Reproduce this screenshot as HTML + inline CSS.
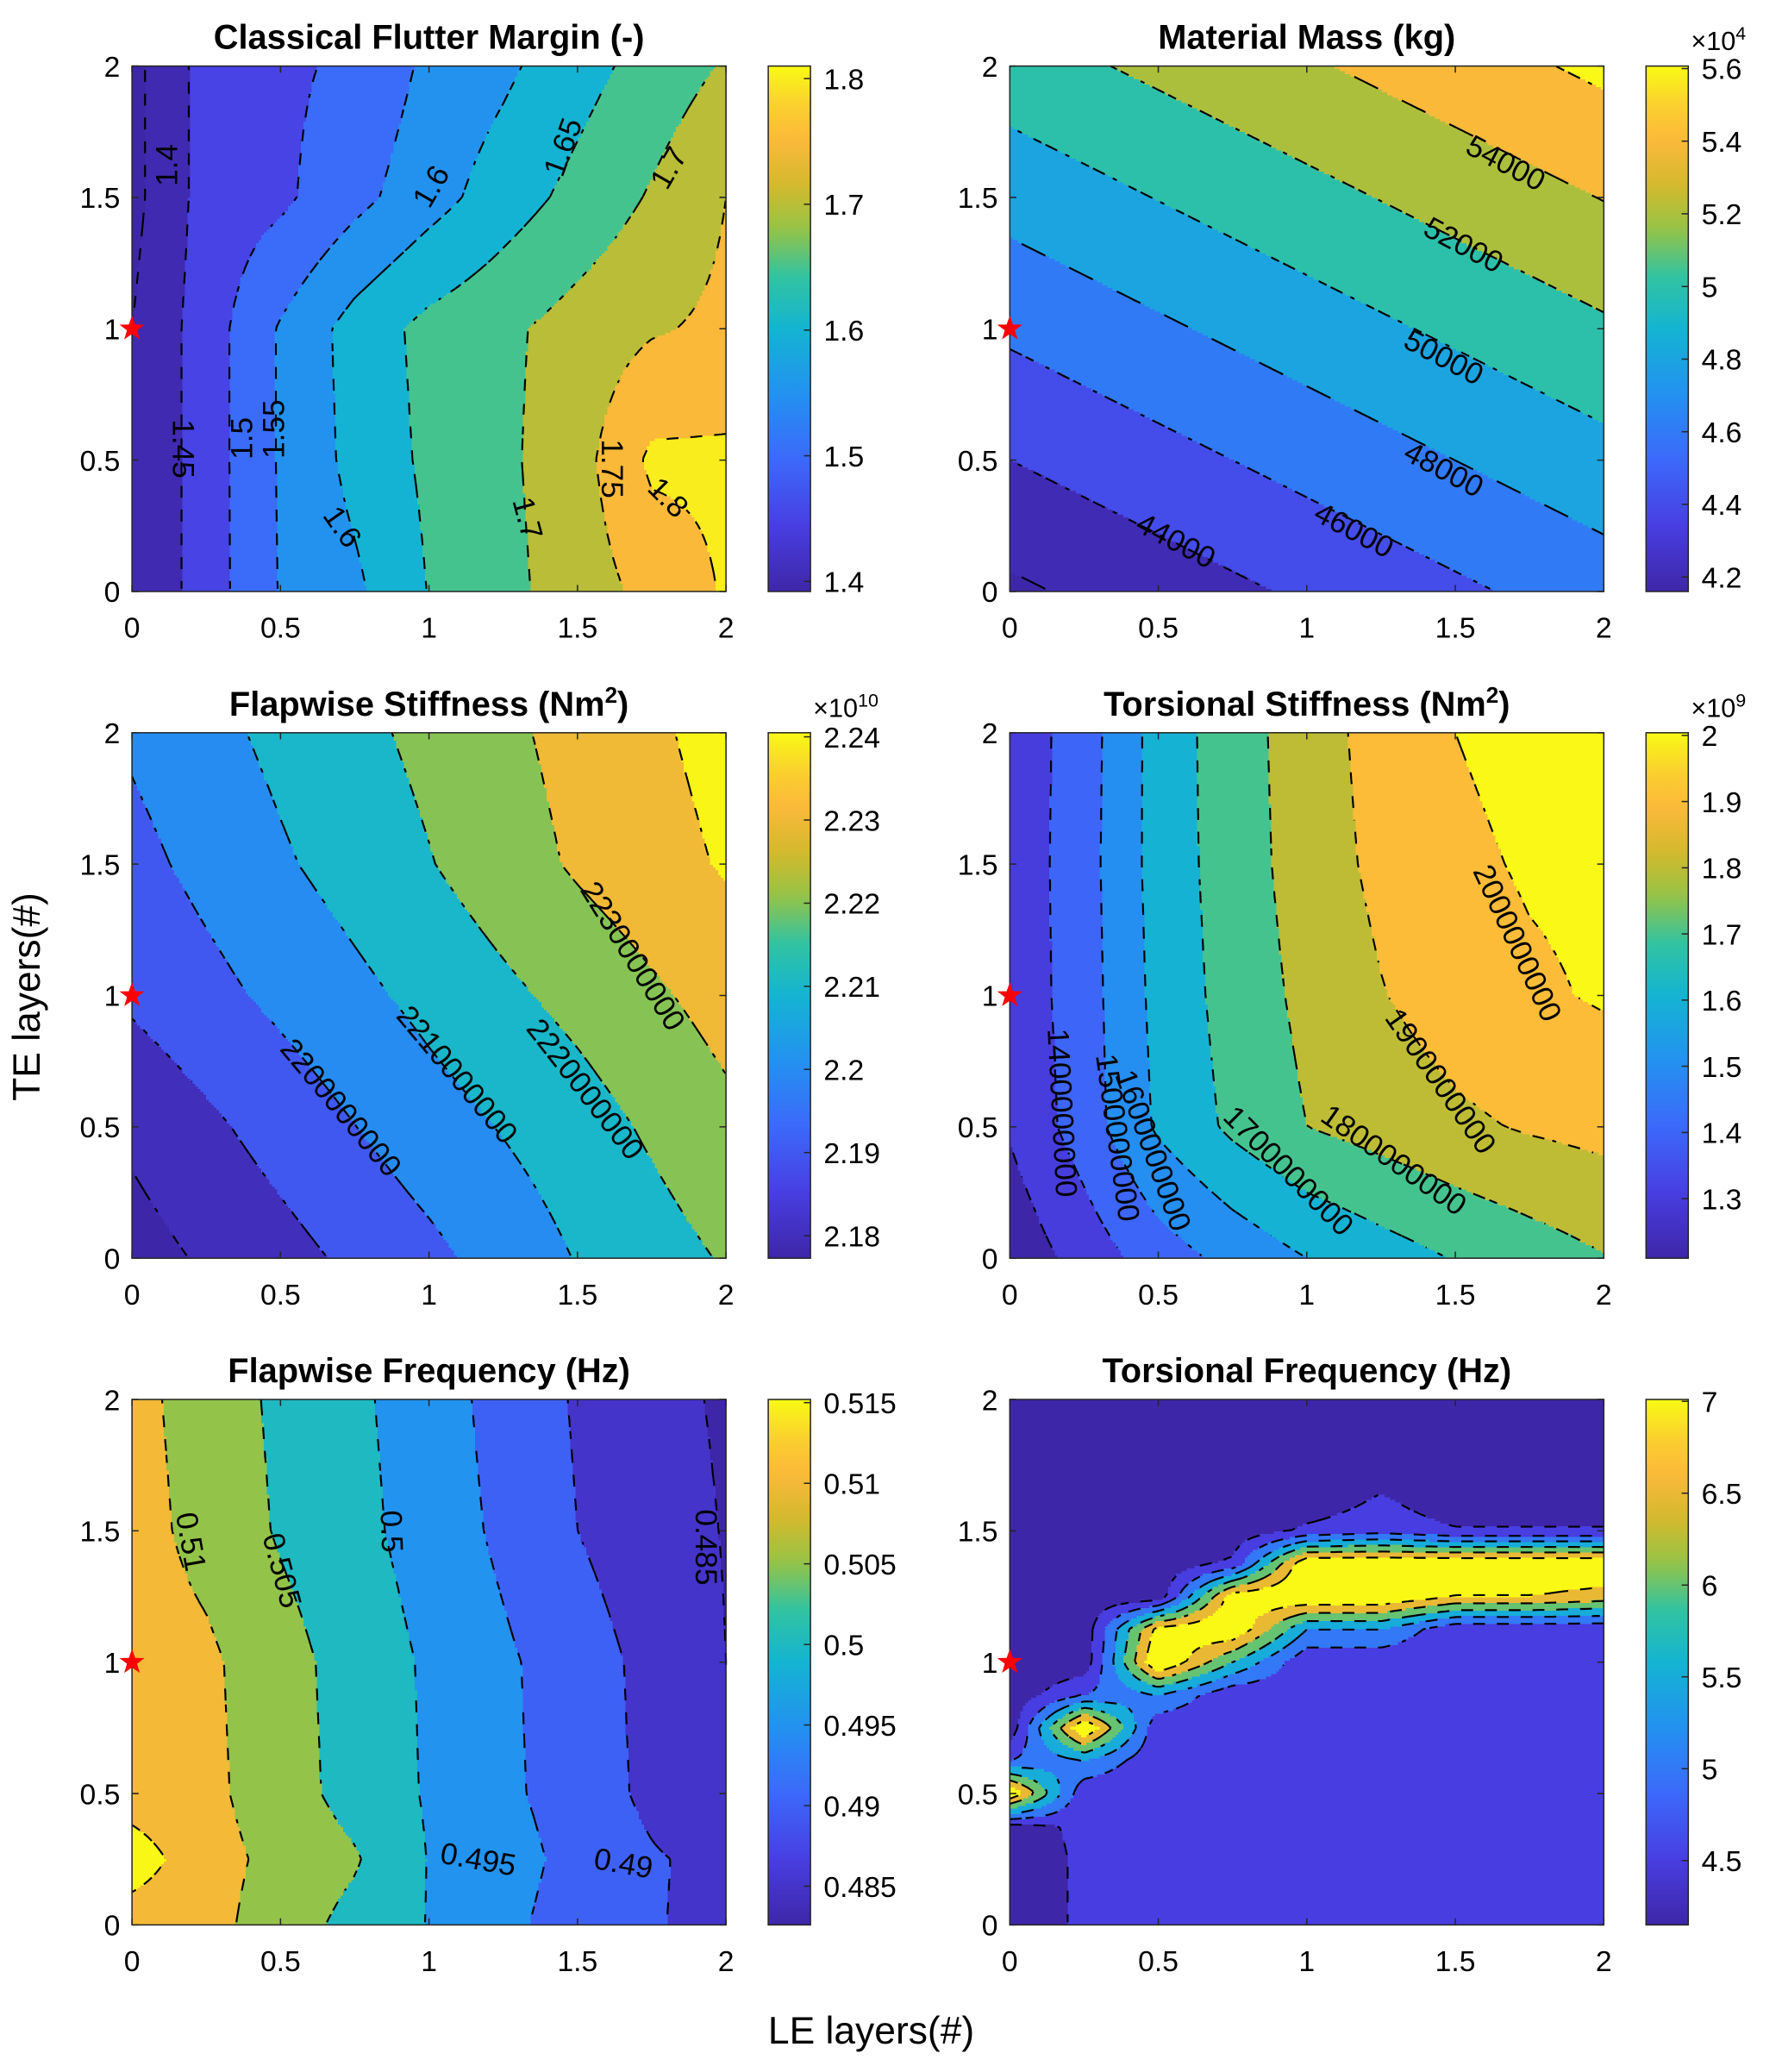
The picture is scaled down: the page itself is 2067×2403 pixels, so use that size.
<!DOCTYPE html>
<html><head><meta charset="utf-8"><title>Contour panels</title>
<style>
html,body{margin:0;padding:0;background:#fff;}
svg{display:block;font-family:"Liberation Sans",Arial,sans-serif;}
</style></head>
<body>
<svg id="chart" xmlns="http://www.w3.org/2000/svg" width="2067" height="2403" viewBox="0 0 1350 1569.4">
<rect x="0" y="0" width="1350" height="1569.4" fill="#ffffff"/>
<text x="30" y="755" font-size="29" text-anchor="middle" transform="rotate(-90 30 755)" fill="#000">TE layers(#)</text>
<text x="660" y="1548" font-size="29" text-anchor="middle" fill="#000">LE layers(#)</text>
</svg>
<script>
// ---------- data ----------
const gridX9 = [0, 0.25, 0.5, 0.75, 1, 1.25, 1.5, 1.75, 2];
const gridX5 = [0, 0.5, 1, 1.5, 2];
const gridY5 = [0, 0.5, 1, 1.5, 2];
const flapFreqY = [0, 0.25, 0.5, 1, 1.5, 2];
const torsFreqY = [0, 0.125, 0.25, 0.375, 0.5, 0.625, 0.75, 0.875, 1, 1.125, 1.25, 1.375, 1.5, 1.625, 1.75, 1.875, 2];

const flutterZ = [
  [1.40, 1.475, 1.553, 1.59, 1.652, 1.686, 1.724, 1.765, 1.805],
  [1.40, 1.475, 1.555, 1.615, 1.66, 1.69, 1.73, 1.81, 1.81],
  [1.40, 1.475, 1.555, 1.62, 1.665, 1.69, 1.72, 1.745, 1.76],
  [1.385, 1.47, 1.49, 1.535, 1.58, 1.625, 1.665, 1.705, 1.75],
  [1.385, 1.47, 1.49, 1.51, 1.56, 1.59, 1.63, 1.67, 1.705]
];
const flutterLevels = [1.4, 1.45, 1.5, 1.55, 1.6, 1.65, 1.7, 1.75, 1.8];
const flutterTicks = [1.4, 1.5, 1.6, 1.7, 1.8];
const flutterTickLabels = ["1.4", "1.5", "1.6", "1.7", "1.8"];

const massZ = [
  [41635, 42970, 44305, 45640, 46975],
  [44000, 45335, 46670, 48005, 49340],
  [46365, 47700, 49035, 50370, 51705],
  [48730, 50065, 51400, 52735, 54070],
  [51095, 52430, 53765, 55100, 56435]
];
const massLevels = [42000, 44000, 46000, 48000, 50000, 52000, 54000, 56000];
const massTicks = [42000, 44000, 46000, 48000, 50000, 52000, 54000, 56000];
const massTickLabels = ["4.2", "4.4", "4.6", "4.8", "5", "5.2", "5.4", "5.6"];

const flapStiffZ = [
  [2.176, 2.1865, 2.1975, 2.2105, 2.2209],
  [2.182, 2.194, 2.2057, 2.2155, 2.2275],
  [2.1917, 2.2023, 2.2128, 2.223, 2.2338],
  [2.197, 2.2087, 2.2195, 2.2313, 2.241],
  [2.2015, 2.2125, 2.2225, 2.2333, 2.2435]
];
const flapStiffLevels = [2.18, 2.19, 2.2, 2.21, 2.22, 2.23, 2.24];
const flapStiffTicks = [2.18, 2.19, 2.2, 2.21, 2.22, 2.23, 2.24];
const flapStiffTickLabels = ["2.18", "2.19", "2.2", "2.21", "2.22", "2.23", "2.24"];

const torsStiffZ = [
  [1.23, 1.34, 1.45, 1.53, 1.6, 1.655, 1.705, 1.75, 1.795],
  [1.31, 1.45, 1.615, 1.72, 1.8, 1.84, 1.88, 1.91, 1.93],
  [1.33, 1.455, 1.63, 1.74, 1.825, 1.895, 1.95, 1.985, 2.01],
  [1.33, 1.46, 1.64, 1.75, 1.845, 1.925, 1.98, 2.01, 2.02],
  [1.33, 1.455, 1.64, 1.755, 1.85, 1.94, 2.0, 2.03, 2.05]
];
const torsStiffLevels = [1.3, 1.4, 1.5, 1.6, 1.7, 1.8, 1.9, 2.0];
const torsStiffTicks = [1.3, 1.4, 1.5, 1.6, 1.7, 1.8, 1.9, 2.0];
const torsStiffTickLabels = ["1.3", "1.4", "1.5", "1.6", "1.7", "1.8", "1.9", "2"];

const flapFreqZ = [
  [0.5125, 0.5118, 0.5073, 0.5035, 0.4998, 0.4962, 0.4928, 0.4903, 0.4888],
  [0.5175, 0.512, 0.5085, 0.5055, 0.4998, 0.497, 0.4935, 0.4905, 0.4885],
  [0.5127, 0.5113, 0.5072, 0.5032, 0.4995, 0.496, 0.4928, 0.4888, 0.485],
  [0.5125, 0.511, 0.5068, 0.503, 0.4993, 0.4958, 0.4925, 0.4885, 0.485],
  [0.512, 0.5083, 0.5045, 0.5015, 0.4978, 0.494, 0.49, 0.4868, 0.4848],
  [0.5115, 0.5078, 0.504, 0.501, 0.4973, 0.4933, 0.4895, 0.4862, 0.4845]
];
const flapFreqLevels = [0.485, 0.49, 0.495, 0.5, 0.505, 0.51, 0.515];
const flapFreqTicks = [0.485, 0.49, 0.495, 0.5, 0.505, 0.51, 0.515];
const flapFreqTickLabels = ["0.485", "0.49", "0.495", "0.5", "0.505", "0.51", "0.515"];

const torsFreqZ = [
  [4.15, 4.6, 4.6, 4.6, 4.6, 4.6, 4.6, 4.6, 4.6],
  [4.15, 4.6, 4.6, 4.6, 4.6, 4.6, 4.6, 4.6, 4.6],
  [4.15, 4.6, 4.6, 4.6, 4.6, 4.6, 4.6, 4.6, 4.6],
  [4.3, 4.6, 4.6, 4.6, 4.6, 4.6, 4.6, 4.6, 4.6],
  [7.5, 4.6, 4.6, 4.6, 4.6, 4.6, 4.6, 4.6, 4.6],
  [5.0, 5.5, 4.6, 4.6, 4.6, 4.6, 4.6, 4.6, 4.6],
  [4.15, 7.6, 4.6, 4.6, 4.6, 4.6, 4.6, 4.6, 4.6],
  [4.15, 5.0, 5.5, 4.6, 4.6, 4.6, 4.6, 4.6, 4.6],
  [4.15, 4.15, 7.6, 6.0, 4.6, 4.6, 4.6, 4.6, 4.6],
  [4.15, 4.15, 7.2, 7.5, 5.5, 5.5, 4.6, 4.6, 4.6],
  [4.15, 4.15, 4.15, 7.3, 7.5, 7.5, 7.0, 7.0, 6.8],
  [4.15, 4.15, 4.15, 4.6, 7.5, 7.5, 7.5, 7.5, 7.5],
  [4.15, 4.15, 4.15, 4.15, 4.6, 4.8, 4.55, 4.55, 4.55],
  [4.15, 4.15, 4.15, 4.15, 4.15, 4.55, 4.15, 4.15, 4.15],
  [4.15, 4.15, 4.15, 4.15, 4.15, 4.15, 4.15, 4.15, 4.15],
  [4.15, 4.15, 4.15, 4.15, 4.15, 4.15, 4.15, 4.15, 4.15],
  [4.15, 4.15, 4.15, 4.15, 4.15, 4.15, 4.15, 4.15, 4.15]
];
const torsFreqLevels = [4.5, 5, 5.5, 6, 6.5, 7];
const torsFreqTicks = [4.5, 5, 5.5, 6, 6.5, 7];
const torsFreqTickLabels = ["4.5", "5", "5.5", "6", "6.5", "7"];

const axisTicks = [0, 0.5, 1, 1.5, 2];
const axisTickLabels = ["0", "0.5", "1", "1.5", "2"];

// ---------- layout ----------
const W = 450, H = 398;
const panels = [
  {key:'flutter', ox:100, oy:50, xs:gridX9, ys:gridY5, z:flutterZ, levels:flutterLevels, clim:[1.392,1.81], ticks:flutterTicks, tl:flutterTickLabels, title:'Classical Flutter Margin (-)', sup:null, exp:null,
   labels:[['1.4',128,125,-90],['1.45',137,340,90],['1.5',185,332,-90],['1.55',209,325,-90],['1.6',258,400,55],['1.6',328,142,-60],['1.65',428,112,-70],['1.7',508,128,-60],['1.7',398,393,75],['1.75',462,355,90],['1.8',505,378,45]]},
  {key:'mass', ox:765, oy:50, xs:gridX5, ys:gridY5, z:massZ, levels:massLevels, clim:[41600,56070], ticks:massTicks, tl:massTickLabels, title:'Material Mass (kg)', sup:null, exp:'4',
   labels:[['54000',1140,125,28],['52000',1108,187,28],['50000',1093,272,28],['48000',1093,357,28],['46000',1025,403,28],['44000',890,411,28]]},
  {key:'flap-stiffness', ox:100, oy:555, xs:gridX5, ys:gridY5, z:flapStiffZ, levels:flapStiffLevels, clim:[2.1773,2.2405], ticks:flapStiffTicks, tl:flapStiffTickLabels, title:'Flapwise Stiffness (Nm', sup:'2', exp:'10',
   labels:[['2230000000',478,725,58],['2210000000',345,815,50],['2220000000',442,826,52],['2200000000',257,840,50]]},
  {key:'torsion-stiffness', ox:765, oy:555, xs:gridX9, ys:gridY5, z:torsStiffZ, levels:torsStiffLevels, clim:[1.21,2.004], ticks:torsStiffTicks, tl:torsStiffTickLabels, title:'Torsional Stiffness (Nm', sup:'2', exp:'9',
   labels:[['2000000000',1148,715,65],['1900000000',1090,820,55],['1800000000',1055,880,35],['1700000000',975,888,45],['1600000000',872,872,70],['1500000000',845,862,82],['1400000000',803,843,87]]},
  {key:'flap-frequency', ox:100, oy:1060, xs:gridX9, ys:flapFreqY, z:flapFreqZ, levels:flapFreqLevels, clim:[0.4826,0.5152], ticks:flapFreqTicks, tl:flapFreqTickLabels, title:'Flapwise Frequency (Hz)', sup:null, exp:null,
   labels:[['0.51',143,1168,80],['0.505',212,1190,75],['0.5',295,1160,88],['0.485',533,1172,90],['0.495',362,1410,10],['0.49',472,1413,10]]},
  {key:'torsion-frequency', ox:765, oy:1060, xs:gridX9, ys:torsFreqY, z:torsFreqZ, levels:torsFreqLevels, clim:[4.15,7.01], ticks:torsFreqTicks, tl:torsFreqTickLabels, title:'Torsional Frequency (Hz)', sup:null, exp:null, labels:[]}
];

// ---------- helpers ----------
const NS = 'http://www.w3.org/2000/svg';
const svg = document.getElementById('chart');
function mk(tag, attrs, parent){
  const e = document.createElementNS(NS, tag);
  for (const k in attrs) e.setAttribute(k, attrs[k]);
  (parent || svg).appendChild(e);
  return e;
}
const cmapPos = [0, 0.125, 0.25, 0.375, 0.5, 0.6, 0.69, 0.77, 0.86, 0.93, 1];
const cmapRGB = [
  [62,38,168],[72,62,225],[60,105,250],[35,145,240],[20,180,210],
  [50,195,160],[150,195,70],[210,185,45],[252,185,58],[250,210,45],[249,251,20]
];
function parula(t){
  t = Math.max(0, Math.min(1, t));
  let i = 0;
  while (i < cmapPos.length - 2 && t > cmapPos[i+1]) i++;
  const u = (t - cmapPos[i]) / (cmapPos[i+1] - cmapPos[i]);
  const a = cmapRGB[i], b = cmapRGB[i+1];
  const c = a.map((v,k)=>Math.round(v + (b[k]-v)*u));
  return 'rgb(' + c[0] + ',' + c[1] + ',' + c[2] + ')';
}
function seg(arr, v){
  for (let i = 0; i < arr.length - 2; i++) if (v < arr[i+1]) return i;
  return arr.length - 2;
}
function interp(xs, ys, z, x, y){
  const i = seg(xs, x), j = seg(ys, y);
  const tx = Math.max(0, Math.min(1, (x - xs[i]) / (xs[i+1] - xs[i])));
  const ty = Math.max(0, Math.min(1, (y - ys[j]) / (ys[j+1] - ys[j])));
  return z[j][i]*(1-tx)*(1-ty) + z[j][i+1]*tx*(1-ty) + z[j+1][i]*(1-tx)*ty + z[j+1][i+1]*tx*ty;
}

panels.forEach(p => {
  const g = mk('g', {});
  
  
  const sx = v => p.ox + v / 2 * W;
  const sy = v => p.oy + H - v / 2 * H;
  const dx = px => (px - p.ox) / W * 2;
  const dy = py => (p.oy + H - py) / H * 2;
  const [cmin, cmax] = p.clim;
  const bandColor = k => k === 0 ? parula(0) : parula((p.levels[k-1] - cmin) / (cmax - cmin));
  const bandOf = v => { let k = 0; while (k < p.levels.length && v >= p.levels[k]) k++; return k; };

  // filled contour bands
  const fillG = mk('g', {'shape-rendering':'crispEdges'}, g);
  
  
  const step = 2;
  const nC = Math.ceil(W / step), nR = Math.ceil(H / step);
  for (let r = 0; r < nR; r++) {
    const py = p.oy + r * step;
    const yv = dy(py + step / 2);
    let startC = 0, cur = -1;
    for (let c = 0; c <= nC; c++) {
      let k = -2;
      if (c < nC) k = bandOf(interp(p.xs, p.ys, p.z, dx(p.ox + c * step + step / 2), yv));
      if (k !== cur) {
        if (cur >= 0) {
          const x0 = p.ox + startC * step;
          const w = Math.min(p.ox + W, p.ox + c * step + 0.4) - x0;
          const h = Math.min(p.oy + H, py + step + 0.4) - py;
          const rc = mk('rect', {x:x0.toFixed(1), y:py.toFixed(1), width:w.toFixed(1), height:h.toFixed(1), fill:bandColor(cur)}, fillG);
          
          
        }
        cur = k; startC = c;
      }
    }
  }

  // contour lines (marching squares)
  const ns = 3;
  const cols = Math.floor(W / ns) + 1, rows = Math.floor(H / ns) + 1;
  const V = [];
  for (let r = 0; r < rows; r++) {
    const row = [];
    for (let c = 0; c < cols; c++) row.push(interp(p.xs, p.ys, p.z, dx(p.ox + Math.min(W, c*ns)), dy(p.oy + Math.min(H, r*ns))));
    V.push(row);
  }
  let d = '';
  p.levels.forEach(L => {
    for (let r = 0; r < rows - 1; r++) for (let c = 0; c < cols - 1; c++) {
      const x0 = p.ox + c*ns, x1 = p.ox + Math.min(W, (c+1)*ns), y0 = p.oy + r*ns, y1 = p.oy + Math.min(H, (r+1)*ns);
      const a = V[r][c], b = V[r][c+1], cc = V[r+1][c+1], e = V[r+1][c];
      const pts = [];
      const edge = (va, vb, xa, ya, xb, yb) => {
        if ((va < L) !== (vb < L)) { const t = (L - va) / (vb - va); pts.push([xa + (xb-xa)*t, ya + (yb-ya)*t]); }
      };
      edge(a, b, x0, y0, x1, y0);
      edge(b, cc, x1, y0, x1, y1);
      edge(cc, e, x1, y1, x0, y1);
      edge(e, a, x0, y1, x0, y0);
      for (let q = 0; q + 1 < pts.length; q += 2) {
        const mx = (pts[q][0] + pts[q+1][0]) / 2, my = (pts[q][1] + pts[q+1][1]) / 2;
        if ((Math.floor(mx / 9) + Math.floor(my / 9)) % 2 === 0)
          d += 'M' + pts[q][0].toFixed(1) + ' ' + pts[q][1].toFixed(1) + 'L' + pts[q+1][0].toFixed(1) + ' ' + pts[q+1][1].toFixed(1);
      }
    }
  });
  const cl = mk('path', {d:d, stroke:'#000', 'stroke-width':'1.4', fill:'none'}, g);
  
  

  // contour labels
  p.labels.forEach(lb => {
    const t = mk('text', {x:lb[1], y:lb[2], 'font-size':'23', 'text-anchor':'middle', 'dominant-baseline':'middle', transform:'rotate(' + lb[3] + ' ' + lb[1] + ' ' + lb[2] + ')', fill:'#000'}, g);
    t.textContent = lb[0];
    
    
  });

  // axes box & ticks
  const box = mk('rect', {x:p.ox, y:p.oy, width:W, height:H, fill:'none', stroke:'#262626', 'stroke-width':'1'}, g);
  
  
  axisTicks.forEach((v, i) => {
    const X = sx(v), Y = sy(v);
    const tk = mk('path', {d:'M'+X+' '+(p.oy+H)+'v-5M'+X+' '+p.oy+'v5M'+p.ox+' '+Y+'h5M'+(p.ox+W)+' '+Y+'h-5', stroke:'#262626', 'stroke-width':'1'}, g);
    
    
    const xl = mk('text', {x:X, y:p.oy+H+35, 'font-size':'22', 'text-anchor':'middle', fill:'#000'}, g);
    xl.textContent = axisTickLabels[i];
    
    
    const yl = mk('text', {x:p.ox-9, y:Y+8, 'font-size':'22', 'text-anchor':'end', fill:'#000'}, g);
    yl.textContent = axisTickLabels[i];
    
    
  });

  // star marker at (0,1)
  const scx = sx(0), scy = sy(1);
  let sp = '';
  for (let i = 0; i < 10; i++) {
    const rr = i % 2 === 0 ? 10 : 4, ang = -Math.PI/2 + i * Math.PI/5;
    sp += (scx + rr*Math.cos(ang)).toFixed(1) + ',' + (scy + rr*Math.sin(ang)).toFixed(1) + ' ';
  }
  const star = mk('polygon', {points:sp, fill:'#ff0000'}, g);
  
  

  // title
  const tt = mk('text', {x:p.ox + W/2, y:p.oy - 13, 'font-size':'26', 'font-weight':'bold', 'text-anchor':'middle', fill:'#000'}, g);
  tt.textContent = p.title;
  if (p.sup) {
    const ts = mk('tspan', {'baseline-shift':'super', 'font-size':'17'}, tt);
    ts.textContent = p.sup;
    const tc = mk('tspan', {}, tt);
    tc.textContent = ')';
  }
  
  

  // colorbar
  const cbx = p.ox + 482, cbw = 32;
  const gid = 'grad-' + p.key;
  const defs = mk('defs', {}, g);
  const lg = mk('linearGradient', {id:gid, x1:'0', y1:'1', x2:'0', y2:'0'}, defs);
  for (let i = 0; i <= 40; i++) mk('stop', {offset:(i/40).toFixed(4), 'stop-color':parula(i/40)}, lg);
  const cb = mk('rect', {x:cbx, y:p.oy, width:cbw, height:H, fill:'url(#' + gid + ')', stroke:'#262626', 'stroke-width':'1'}, g);
  
  
  p.ticks.forEach((v, i) => {
    const Y = p.oy + H - (v - cmin) / (cmax - cmin) * H;
    const ct = mk('path', {d:'M'+(cbx+cbw)+' '+Y.toFixed(1)+'h-5', stroke:'#262626', 'stroke-width':'1'}, g);
    
    
    const cbl = mk('text', {x:cbx+cbw+10, y:(Y+8).toFixed(1), 'font-size':'22', fill:'#000'}, g);
    cbl.textContent = p.tl[i];
    
    
  });
  if (p.exp) {
    const ex = mk('text', {x:cbx+34, y:p.oy - 12, 'font-size':'20', fill:'#000'}, g);
    ex.textContent = '×10';
    const es = mk('tspan', {'baseline-shift':'super', 'font-size':'14'}, ex);
    es.textContent = p.exp;
    
    
  }
});
</script>
</body></html>
